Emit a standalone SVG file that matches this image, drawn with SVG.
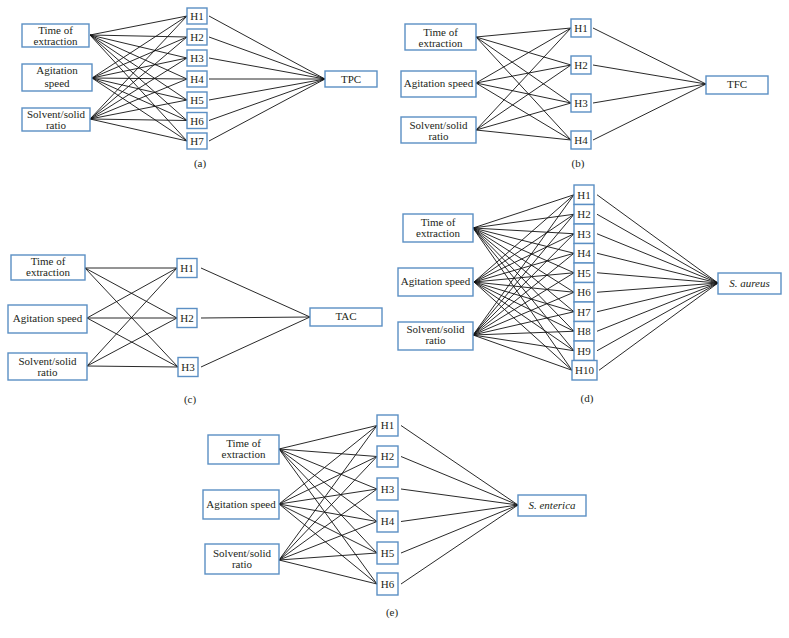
<svg xmlns="http://www.w3.org/2000/svg" width="789" height="638" viewBox="0 0 789 638">
<style>
.b{fill:#fff;stroke:#5b8fc4;stroke-width:1.4}
.t{font-family:"Liberation Serif","Times New Roman",serif;font-size:11px;fill:#231f20;text-anchor:middle}
.h{font-family:"Liberation Serif","Times New Roman",serif;font-size:11px;fill:#231f20;text-anchor:middle}
.i{font-style:italic}
.c line{stroke:#111;stroke-width:0.9}
</style>
<rect width="789" height="638" fill="#fff"/>
<g class="c" id="connectors">
<line x1="90" y1="35" x2="187" y2="16"/><line x1="90" y1="35" x2="187" y2="37"/><line x1="90" y1="35" x2="187" y2="58"/><line x1="90" y1="35" x2="187" y2="79"/><line x1="90" y1="35" x2="187" y2="100"/><line x1="90" y1="35" x2="187" y2="120.5"/><line x1="90" y1="35" x2="187" y2="141"/>
<line x1="92" y1="78" x2="187" y2="16"/><line x1="92" y1="78" x2="187" y2="37"/><line x1="92" y1="78" x2="187" y2="58"/><line x1="92" y1="78" x2="187" y2="79"/><line x1="92" y1="78" x2="187" y2="100"/><line x1="92" y1="78" x2="187" y2="120.5"/><line x1="92" y1="78" x2="187" y2="141"/>
<line x1="90" y1="119" x2="187" y2="16"/><line x1="90" y1="119" x2="187" y2="37"/><line x1="90" y1="119" x2="187" y2="58"/><line x1="90" y1="119" x2="187" y2="79"/><line x1="90" y1="119" x2="187" y2="100"/><line x1="90" y1="119" x2="187" y2="120.5"/><line x1="90" y1="119" x2="187" y2="141"/>
<line x1="209" y1="16" x2="325" y2="79"/><line x1="209" y1="37" x2="325" y2="79"/><line x1="209" y1="58" x2="325" y2="79"/><line x1="209" y1="79" x2="325" y2="79"/><line x1="209" y1="100" x2="325" y2="79"/><line x1="209" y1="120.5" x2="325" y2="79"/><line x1="209" y1="141" x2="325" y2="79"/>
<line x1="476" y1="37" x2="571" y2="28"/><line x1="476" y1="37" x2="571" y2="65"/><line x1="476" y1="37" x2="571" y2="103"/><line x1="476" y1="37" x2="571" y2="140"/>
<line x1="476" y1="83" x2="571" y2="28"/><line x1="476" y1="83" x2="571" y2="65"/><line x1="476" y1="83" x2="571" y2="103"/><line x1="476" y1="83" x2="571" y2="140"/>
<line x1="476" y1="130" x2="571" y2="28"/><line x1="476" y1="130" x2="571" y2="65"/><line x1="476" y1="130" x2="571" y2="103"/><line x1="476" y1="130" x2="571" y2="140"/>
<line x1="593" y1="28" x2="706" y2="84"/><line x1="593" y1="65" x2="706" y2="84"/><line x1="593" y1="103" x2="706" y2="84"/><line x1="593" y1="140" x2="706" y2="84"/>
<line x1="85" y1="268" x2="177" y2="268"/><line x1="85" y1="268" x2="177" y2="318"/><line x1="85" y1="268" x2="178" y2="367"/>
<line x1="87" y1="318" x2="177" y2="268"/><line x1="87" y1="318" x2="177" y2="318"/><line x1="87" y1="318" x2="178" y2="367"/>
<line x1="87" y1="366" x2="177" y2="268"/><line x1="87" y1="366" x2="177" y2="318"/><line x1="87" y1="366" x2="178" y2="367"/>
<line x1="201" y1="268" x2="310" y2="317"/><line x1="201" y1="318" x2="310" y2="317"/><line x1="201" y1="367" x2="310" y2="317"/>
<line x1="473" y1="228" x2="574" y2="194.75"/><line x1="473" y1="228" x2="574" y2="214.25"/><line x1="473" y1="228" x2="574" y2="233.75"/><line x1="473" y1="228" x2="574" y2="253.25"/><line x1="473" y1="228" x2="574" y2="272.75"/><line x1="473" y1="228" x2="574" y2="292.25"/><line x1="473" y1="228" x2="574" y2="311.75"/><line x1="473" y1="228" x2="574" y2="331.25"/><line x1="473" y1="228" x2="574" y2="350.75"/><line x1="473" y1="228" x2="572" y2="370.25"/>
<line x1="474" y1="282" x2="574" y2="194.75"/><line x1="474" y1="282" x2="574" y2="214.25"/><line x1="474" y1="282" x2="574" y2="233.75"/><line x1="474" y1="282" x2="574" y2="253.25"/><line x1="474" y1="282" x2="574" y2="272.75"/><line x1="474" y1="282" x2="574" y2="292.25"/><line x1="474" y1="282" x2="574" y2="311.75"/><line x1="474" y1="282" x2="574" y2="331.25"/><line x1="474" y1="282" x2="574" y2="350.75"/><line x1="474" y1="282" x2="572" y2="370.25"/>
<line x1="473" y1="335" x2="574" y2="194.75"/><line x1="473" y1="335" x2="574" y2="214.25"/><line x1="473" y1="335" x2="574" y2="233.75"/><line x1="473" y1="335" x2="574" y2="253.25"/><line x1="473" y1="335" x2="574" y2="272.75"/><line x1="473" y1="335" x2="574" y2="292.25"/><line x1="473" y1="335" x2="574" y2="311.75"/><line x1="473" y1="335" x2="574" y2="331.25"/><line x1="473" y1="335" x2="574" y2="350.75"/><line x1="473" y1="335" x2="572" y2="370.25"/>
<line x1="597" y1="194.75" x2="718" y2="283"/><line x1="597" y1="214.25" x2="718" y2="283"/><line x1="597" y1="233.75" x2="718" y2="283"/><line x1="597" y1="253.25" x2="718" y2="283"/><line x1="597" y1="272.75" x2="718" y2="283"/><line x1="597" y1="292.25" x2="718" y2="283"/><line x1="597" y1="311.75" x2="718" y2="283"/><line x1="597" y1="331.25" x2="718" y2="283"/><line x1="597" y1="350.75" x2="718" y2="283"/><line x1="599" y1="370.25" x2="718" y2="283"/>
<line x1="279" y1="449" x2="377" y2="425.5"/><line x1="279" y1="449" x2="377" y2="456.5"/><line x1="279" y1="449" x2="377" y2="489"/><line x1="279" y1="449" x2="377" y2="521.5"/><line x1="279" y1="449" x2="377" y2="553"/><line x1="279" y1="449" x2="377" y2="584"/>
<line x1="279" y1="504" x2="377" y2="425.5"/><line x1="279" y1="504" x2="377" y2="456.5"/><line x1="279" y1="504" x2="377" y2="489"/><line x1="279" y1="504" x2="377" y2="521.5"/><line x1="279" y1="504" x2="377" y2="553"/><line x1="279" y1="504" x2="377" y2="584"/>
<line x1="279" y1="560" x2="377" y2="425.5"/><line x1="279" y1="560" x2="377" y2="456.5"/><line x1="279" y1="560" x2="377" y2="489"/><line x1="279" y1="560" x2="377" y2="521.5"/><line x1="279" y1="560" x2="377" y2="553"/><line x1="279" y1="560" x2="377" y2="584"/>
<line x1="401" y1="425.5" x2="518" y2="505"/><line x1="401" y1="456.5" x2="518" y2="505"/><line x1="401" y1="489" x2="518" y2="505"/><line x1="401" y1="521.5" x2="518" y2="505"/><line x1="401" y1="553" x2="518" y2="505"/><line x1="401" y1="584" x2="518" y2="505"/>
</g>

<g id="a-time"><rect class="b" x="22" y="24" width="67" height="23"/><text class="t" x="55.5" y="34">Time of</text><text class="t" x="55.5" y="45">extraction</text></g>
<g id="a-agit"><rect class="b" x="22" y="64" width="70" height="27"/><text class="t" x="57" y="74">Agitation</text><text class="t" x="57" y="87">speed</text></g>
<g id="a-solv"><rect class="b" x="22" y="108" width="68" height="23"/><text class="t" x="56" y="118">Solvent/solid</text><text class="t" x="56" y="129">ratio</text></g>
<g id="a-h1"><rect class="b" x="187" y="8" width="20" height="16"/><text class="h" x="197" y="20">H1</text></g>
<g id="a-h2"><rect class="b" x="187" y="29" width="20" height="16"/><text class="h" x="197" y="41">H2</text></g>
<g id="a-h3"><rect class="b" x="187" y="50" width="20" height="16"/><text class="h" x="197" y="62">H3</text></g>
<g id="a-h4"><rect class="b" x="187" y="71" width="20" height="16"/><text class="h" x="197" y="83">H4</text></g>
<g id="a-h5"><rect class="b" x="187" y="92" width="20" height="16"/><text class="h" x="197" y="104">H5</text></g>
<g id="a-h6"><rect class="b" x="187" y="112.5" width="20" height="16"/><text class="h" x="197" y="124.5">H6</text></g>
<g id="a-h7"><rect class="b" x="187" y="133" width="20" height="16"/><text class="h" x="197" y="145">H7</text></g>
<g id="a-tpc"><rect class="b" x="325" y="71" width="52" height="16"/><text class="h" x="351" y="83">TPC</text></g>
<text class="t" x="200" y="167">(a)</text>

<g id="b-time"><rect class="b" x="405" y="24" width="71" height="26"/><text class="t" x="440.5" y="35.5">Time of</text><text class="t" x="440.5" y="46.5">extraction</text></g>
<g id="b-agit"><rect class="b" x="401" y="71" width="75" height="26"/><text class="t" x="438.5" y="87">Agitation speed</text></g>
<g id="b-solv"><rect class="b" x="401" y="117" width="75" height="26"/><text class="t" x="438.5" y="128.5">Solvent/solid</text><text class="t" x="438.5" y="139.5">ratio</text></g>
<g id="b-h1"><rect class="b" x="571" y="19" width="20" height="18"/><text class="h" x="581" y="32">H1</text></g>
<g id="b-h2"><rect class="b" x="571" y="56" width="20" height="18"/><text class="h" x="581" y="69">H2</text></g>
<g id="b-h3"><rect class="b" x="571" y="94" width="20" height="18"/><text class="h" x="581" y="107">H3</text></g>
<g id="b-h4"><rect class="b" x="571" y="131" width="20" height="18"/><text class="h" x="581" y="144">H4</text></g>
<g id="b-tfc"><rect class="b" x="706" y="76" width="62" height="18"/><text class="h" x="737" y="88">TFC</text></g>
<text class="t" x="578" y="167">(b)</text>

<g id="c-time"><rect class="b" x="11" y="255" width="74" height="25"/><text class="t" x="48" y="265">Time of</text><text class="t" x="48" y="276">extraction</text></g>
<g id="c-agit"><rect class="b" x="8" y="305" width="79" height="28"/><text class="t" x="47.5" y="322">Agitation speed</text></g>
<g id="c-solv"><rect class="b" x="8" y="353" width="79" height="27"/><text class="t" x="47.5" y="365">Solvent/solid</text><text class="t" x="47.5" y="376">ratio</text></g>
<g id="c-h1"><rect class="b" x="177" y="258.5" width="20" height="19"/><text class="h" x="187" y="272">H1</text></g>
<g id="c-h2"><rect class="b" x="177" y="308.5" width="20" height="19"/><text class="h" x="187" y="322">H2</text></g>
<g id="c-h3"><rect class="b" x="178" y="357.5" width="20" height="19"/><text class="h" x="188" y="371">H3</text></g>
<g id="c-tac"><rect class="b" x="310" y="308" width="72" height="18"/><text class="h" x="346" y="320">TAC</text></g>
<text class="t" x="190" y="403">(c)</text>

<g id="d-time"><rect class="b" x="403" y="214" width="70" height="28"/><text class="t" x="438" y="225.5">Time of</text><text class="t" x="438" y="236.5">extraction</text></g>
<g id="d-agit"><rect class="b" x="398" y="268" width="75" height="28"/><text class="t" x="435.5" y="285">Agitation speed</text></g>
<g id="d-solv"><rect class="b" x="398" y="322" width="75" height="28"/><text class="t" x="435.5" y="332.5">Solvent/solid</text><text class="t" x="435.5" y="343.5">ratio</text></g>
<g id="d-h1"><rect class="b" x="574" y="185" width="20" height="19.5"/><text class="h" x="584" y="198.5">H1</text></g>
<g id="d-h2"><rect class="b" x="574" y="204.5" width="20" height="19.5"/><text class="h" x="584" y="218">H2</text></g>
<g id="d-h3"><rect class="b" x="574" y="224" width="20" height="19.5"/><text class="h" x="584" y="237.5">H3</text></g>
<g id="d-h4"><rect class="b" x="574" y="243.5" width="20" height="19.5"/><text class="h" x="584" y="257">H4</text></g>
<g id="d-h5"><rect class="b" x="574" y="263" width="20" height="19.5"/><text class="h" x="584" y="276.5">H5</text></g>
<g id="d-h6"><rect class="b" x="574" y="282.5" width="20" height="19.5"/><text class="h" x="584" y="296">H6</text></g>
<g id="d-h7"><rect class="b" x="574" y="302" width="20" height="19.5"/><text class="h" x="584" y="315.5">H7</text></g>
<g id="d-h8"><rect class="b" x="574" y="321.5" width="20" height="19.5"/><text class="h" x="584" y="335">H8</text></g>
<g id="d-h9"><rect class="b" x="574" y="341" width="20" height="19.5"/><text class="h" x="584" y="354.5">H9</text></g>
<g id="d-h10"><rect class="b" x="572" y="360.5" width="25" height="19.5"/><text class="h" x="584.5" y="374">H10</text></g>
<g id="d-saureus"><rect class="b" x="718" y="273" width="63" height="21"/><text class="h i" x="749.5" y="287">S. aureus</text></g>
<text class="t" x="587" y="402">(d)</text>

<g id="e-time"><rect class="b" x="208" y="435" width="71" height="29"/><text class="t" x="243.5" y="446.5">Time of</text><text class="t" x="243.5" y="457.5">extraction</text></g>
<g id="e-agit"><rect class="b" x="203" y="490" width="76" height="29"/><text class="t" x="241" y="508">Agitation speed</text></g>
<g id="e-solv"><rect class="b" x="205" y="544" width="74" height="30"/><text class="t" x="242" y="556.5">Solvent/solid</text><text class="t" x="242" y="567.5">ratio</text></g>
<g id="e-h1"><rect class="b" x="377" y="415" width="21" height="21"/><text class="h" x="387.5" y="429">H1</text></g>
<g id="e-h2"><rect class="b" x="377" y="446" width="21" height="21"/><text class="h" x="387.5" y="460">H2</text></g>
<g id="e-h3"><rect class="b" x="377" y="478" width="21" height="22"/><text class="h" x="387.5" y="492.5">H3</text></g>
<g id="e-h4"><rect class="b" x="377" y="511" width="21" height="21"/><text class="h" x="387.5" y="525">H4</text></g>
<g id="e-h5"><rect class="b" x="377" y="542" width="21" height="22"/><text class="h" x="387.5" y="556.5">H5</text></g>
<g id="e-h6"><rect class="b" x="377" y="573" width="21" height="22"/><text class="h" x="387.5" y="587.5">H6</text></g>
<g id="e-senterica"><rect class="b" x="518" y="495" width="68" height="21"/><text class="h i" x="552" y="509">S. enterica</text></g>
<text class="t" x="392" y="616">(e)</text>
</svg>
